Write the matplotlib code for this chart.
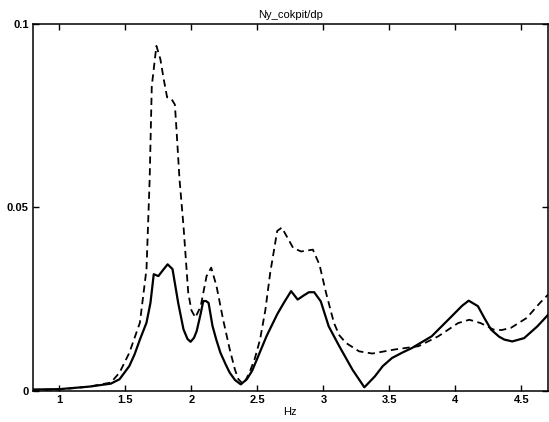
import matplotlib

matplotlib.use("Agg")
import matplotlib.pyplot as plt

# Solid curve (Hz, magnitude)
solid_hz = [0.8, 1.0, 1.23, 1.39, 1.456, 1.53, 1.57, 1.61, 1.66, 1.69, 1.715, 1.75,
            1.78, 1.82, 1.857, 1.90, 1.94, 1.97, 1.994, 2.02, 2.04, 2.07, 2.09, 2.11,
            2.13, 2.16, 2.19, 2.22, 2.26, 2.29, 2.33, 2.374, 2.42, 2.46, 2.496, 2.57,
            2.65, 2.70, 2.755, 2.805, 2.85, 2.89, 2.93, 2.98, 3.04, 3.12, 3.22, 3.31,
            3.39, 3.45, 3.52, 3.60, 3.67, 3.82, 3.97, 4.05, 4.10, 4.17, 4.22, 4.27,
            4.33, 4.37, 4.43, 4.52, 4.62, 4.70]
solid_val = [0.0004, 0.0005, 0.0012, 0.002, 0.0032, 0.0068, 0.010, 0.014, 0.0186,
             0.024, 0.0318, 0.0313, 0.0327, 0.0345, 0.0332, 0.024, 0.0168, 0.0142,
             0.0134, 0.0145, 0.0163, 0.021, 0.0245, 0.0245, 0.024, 0.0177, 0.0138,
             0.0104, 0.0072, 0.005, 0.003, 0.0018, 0.0032, 0.0055, 0.0086, 0.015,
             0.0209, 0.024, 0.0272, 0.0249, 0.026, 0.0269, 0.0269, 0.0244, 0.0176,
             0.0122, 0.0058, 0.001, 0.004, 0.0068, 0.009, 0.0105, 0.0117, 0.0149,
             0.0203, 0.0232, 0.0246, 0.0231, 0.0198, 0.0167, 0.0148, 0.014, 0.0135,
             0.0144, 0.0176, 0.0207]

# Dashed curve
dashed_hz = [0.8, 1.0, 1.23, 1.39, 1.456, 1.53, 1.61, 1.66, 1.684, 1.70, 1.735, 1.765,
             1.79, 1.816, 1.85, 1.875, 1.887, 1.91, 1.94, 1.976, 2.0, 2.03, 2.07,
             2.115, 2.15, 2.19, 2.24, 2.29, 2.33, 2.356, 2.394, 2.44, 2.48, 2.52,
             2.56, 2.597, 2.65, 2.685, 2.77, 2.83, 2.92, 2.97, 3.02, 3.08, 3.12, 3.17,
             3.27, 3.37, 3.54, 3.72, 3.87, 4.02, 4.105, 4.19, 4.29, 4.35, 4.42, 4.54,
             4.64, 4.70]
dashed_val = [0.0003, 0.0004, 0.0012, 0.0023, 0.005, 0.0104, 0.0186, 0.0332, 0.0577,
              0.083, 0.094, 0.0904, 0.085, 0.080, 0.0795, 0.078, 0.0713, 0.0577,
              0.045, 0.0268, 0.022, 0.020, 0.023, 0.0313, 0.0336, 0.0286, 0.0195,
              0.0114, 0.0058, 0.0032, 0.0018, 0.005, 0.0088, 0.014, 0.022, 0.0322,
              0.0436, 0.0445, 0.039, 0.038, 0.0385, 0.0344, 0.0267, 0.0185, 0.0152,
              0.0131, 0.0108, 0.0102, 0.0113, 0.0122, 0.0149, 0.0185, 0.0194, 0.0185,
              0.0167, 0.0166, 0.0172, 0.0199, 0.024, 0.0262]

xticks = [1, 1.5, 2, 2.5, 3, 3.5, 4, 4.5]
xticklabels = ["1", "1.5", "2", "2.5", "3", "3.5", "4", "4.5"]
yticks = [0, 0.05, 0.1]
yticklabels = ["0", "0.05", "0.1"]

plt.rcParams["font.family"] = ["Liberation Sans", "DejaVu Sans"]

fig = plt.figure(figsize=(5.49, 4.22), dpi=100)
ax = fig.add_axes([0.060, 0.0735, 0.938, 0.870])

ax.plot(solid_hz, solid_val, color="black", linewidth=1.6, linestyle="-")
ax.plot(dashed_hz, dashed_val, color="black", linewidth=1.3,
        linestyle=(0, (4, 2.5)))

ax.set_xlim(0.8, 4.7)
ax.set_ylim(0, 0.1)
ax.set_xticks(xticks)
ax.set_xticklabels(xticklabels)
ax.set_yticks(yticks)
ax.set_yticklabels(yticklabels)
ax.tick_params(direction="in", top=True, right=True, length=4, width=1,
               labelsize=8, pad=3)
for label in ax.get_xticklabels() + ax.get_yticklabels():
    label.set_fontweight("bold")
for spine in ax.spines.values():
    spine.set_linewidth(1.1)

ax.set_title("Ny_cokpit/dp", fontsize=8, pad=4)
ax.set_xlabel("Hz", fontsize=8, labelpad=1)

fig.savefig("out.png", dpi=100)
